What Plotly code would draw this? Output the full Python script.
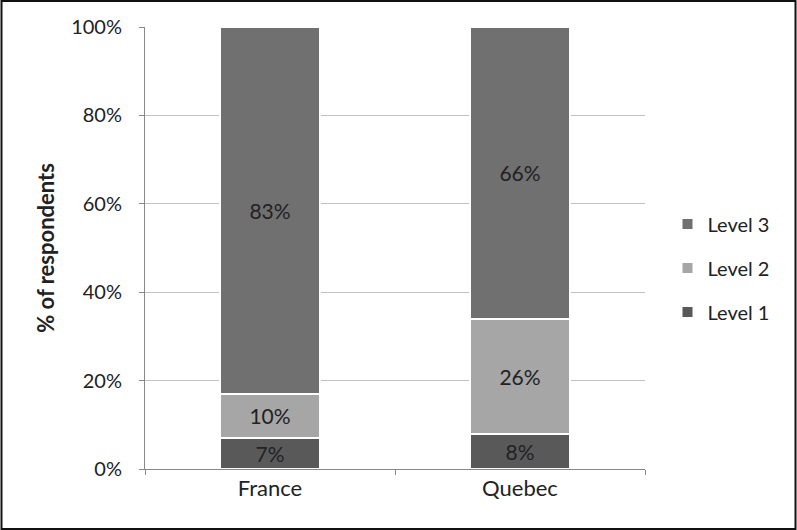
import plotly.graph_objects as go

countries = ['France', 'Quebec']
level1 = [7, 8]
level2 = [10, 26]
level3 = [83, 66]
series_names = ['Level 1', 'Level 2', 'Level 3']
series_colors = ['#595959', '#a6a6a6', '#707070']
y_ticks = [0, 20, 40, 60, 80, 100]
y_tick_labels = ['0%', '20%', '40%', '60%', '80%', '100%']

fig = go.Figure()
for i, (name, vals, col) in enumerate(zip(series_names, [level1, level2, level3], series_colors)):
    fig.add_trace(go.Bar(
        x=countries, y=vals, name=name, legendgroup=name,
        legendrank=10 - i,  # Level 3 on top of legend
        marker=dict(color=col, line=dict(color='white', width=2)),
        text=[f'{v}%' for v in vals], textposition='inside',
        insidetextanchor='middle',
        textfont=dict(size=21, color='#222222'),
        width=0.4,
    ))

fig.update_layout(
    width=797, height=530,
    barmode='stack',
    plot_bgcolor='white', paper_bgcolor='white',
    font=dict(family='Lato', size=20, color='#222222'),
    margin=dict(l=145, r=152, t=27, b=61),
    showlegend=True,
    legend=dict(
        x=1.045, y=0.455, xanchor='left', yanchor='middle',
        traceorder='grouped', tracegroupgap=15,
        font=dict(size=20),
        itemwidth=30,
    ),
    uniformtext=dict(mode=False),
)
fig.update_yaxes(
    range=[0, 100], tickvals=y_ticks, ticktext=y_tick_labels,
    showgrid=True, gridcolor='#c0c0c0', gridwidth=1,
    showline=True, linecolor='#888888', linewidth=1,
    ticks='outside', ticklen=5, tickcolor='#888888',
    ticklabelstandoff=13,
    title=dict(text='<b>% of respondents</b>', font=dict(size=22), standoff=10),
    zeroline=False,
)
fig.update_xaxes(
    showline=True, linecolor='#888888', linewidth=1,
    ticks='outside', ticklen=5, tickcolor='#888888',
    tickson='boundaries',
    tickfont=dict(size=22),
)
# outer frame around the whole image
fig.add_shape(
    type='rect', xref='paper', yref='paper',
    x0=-0.287, x1=1.301, y0=-0.1357, y1=1.0588,
    line=dict(color='#111111', width=2), layer='above',
)
fig.write_html('out.html', config={'displayModeBar': False},
               post_script="document.body.style.margin='0';")
